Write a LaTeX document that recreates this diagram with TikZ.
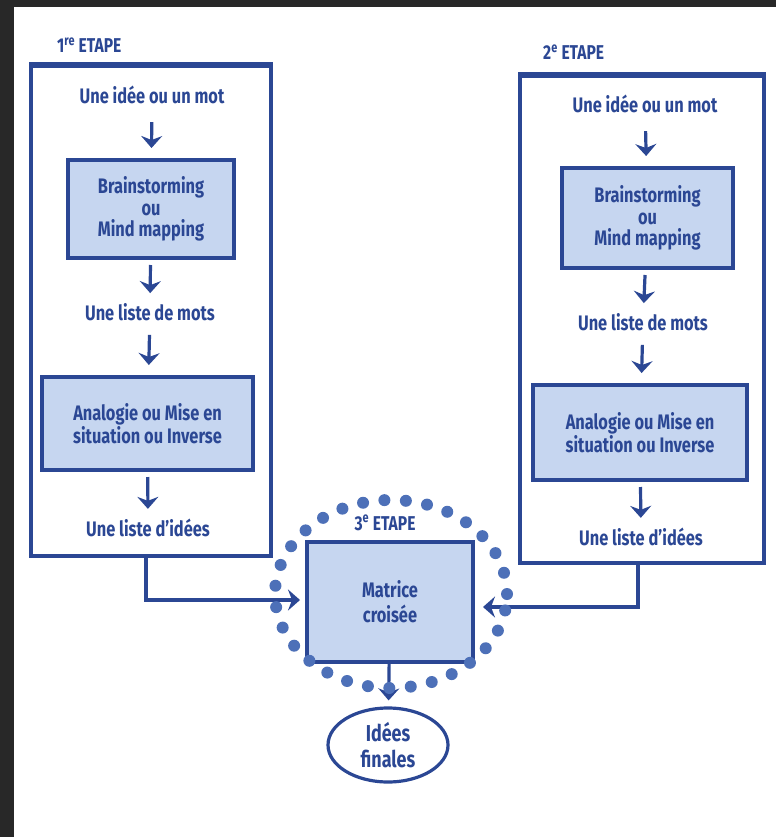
\documentclass[tikz,border=0pt]{standalone}
\usepackage{fontspec}
\setmainfont{Fira Sans}[FakeStretch=0.78]
\usetikzlibrary{arrows.meta,shapes.geometric,calc}
\definecolor{ink}{HTML}{2B4794}
\definecolor{boxfill}{HTML}{C6D6F0}
\definecolor{dotblue}{HTML}{4D70B8}
\definecolor{scanedge}{HTML}{282828}
\begin{document}
\begin{tikzpicture}[x=1pt,y=-1pt,
  frame/.style={draw=ink, line width=3.2pt, rectangle, inner sep=0pt},
  frametop/.style={draw=ink, line width=5pt},
  procbox/.style={draw=ink, fill=boxfill, line width=4pt, rectangle, align=center,
    text=ink, inner sep=0pt, font=\bfseries\fontsize{21}{21.5}\selectfont},
  lbl/.style={text=ink, inner sep=0pt, font=\bfseries\fontsize{21}{21}\selectfont},
  steplbl/.style={text=ink, inner sep=0pt, anchor=west, font=\bfseries\fontsize{20}{20}\selectfont},
  arr/.style={draw=ink, line width=3.2pt, -{Stealth[length=12pt,width=21pt,inset=4pt]}},
  down/.style={arr, shorten <=#1, shorten >=10pt},
  down/.default=20pt
]
\useasboundingbox (0,0) rectangle (776,837);
\fill[white] (0,0) rectangle (776,837);
\fill[scanedge] (0,0) rectangle (776,7);
\fill[scanedge] (0,0) rectangle (14,837);

% ---- stage 1 ----
\node[steplbl] (step1) at (57,45) {1\textsuperscript{re} ETAPE};
\node[frame, minimum width=240pt, minimum height=490pt] (frame1) at (151,311) {};
\draw[frametop] (frame1.north west) -- (frame1.north east);
\node[lbl] (idea1) at (152,95) {Une idée ou un mot};
\node[procbox, minimum width=166pt, minimum height=98pt] (bs1) at (151,209)
  {Brainstorming\\ou\\Mind mapping};
\node[lbl] (list1) at (150,312) {Une liste de mots};
\node[procbox, minimum width=211pt, minimum height=93pt] (an1) at (147.5,423.5)
  {Analogie ou Mise en\\situation ou Inverse};
\node[lbl] (ideas1) at (148,528) {Une liste d'idées};

% ---- stage 2 ----
\node[steplbl] (step2) at (543,52) {2\textsuperscript{e} ETAPE};
\node[frame, minimum width=244pt, minimum height=487pt] (frame2) at (642,319.5) {};
\draw[frametop] (frame2.north west) -- (frame2.north east);
\node[lbl] (idea2) at (645,104) {Une idée ou un mot};
\node[procbox, minimum width=171pt, minimum height=100pt] (bs2) at (647.5,218)
  {Brainstorming\\ou\\Mind mapping};
\node[lbl] (list2) at (643,322) {Une liste de mots};
\node[procbox, minimum width=214pt, minimum height=95pt] (an2) at (640,432.5)
  {Analogie ou Mise en\\situation ou Inverse};
\node[lbl] (ideas2) at (641,537) {Une liste d'idées};

% ---- stage 3 ----
\node[procbox, minimum width=166pt, minimum height=120pt,
  font=\bfseries\fontsize{21}{25}\selectfont] (mat) at (390,602) {Matrice\\croisée};
\node[text=ink, inner sep=0pt, font=\bfseries\fontsize{20}{20}\selectfont] (step3) at (385,523)
  {3\textsuperscript{e} ETAPE};
\node[ellipse, draw=ink, line width=3.2pt, minimum width=120pt, minimum height=74pt,
  inner sep=0pt, align=center, text=ink, font=\bfseries\fontsize{23}{26}\selectfont] (final) at (388,745)
  {Idées\\finales};

% arrows inside the stages
\draw[down=18pt] (idea1) -- (bs1);
\draw[down=5pt] (bs1) -- (list1);
\draw[down=14pt] (list1) -- (an1);
\draw[down=5pt] (an1) -- (ideas1);
\draw[down=18pt] (idea2) -- (bs2);
\draw[down=5pt] (bs2) -- (list2);
\draw[down=14pt] (list2) -- (an2);
\draw[down=5pt] (an2) -- (ideas2);

% links into the crossed matrix
\coordinate (j1) at (146,600);
\coordinate (j2) at (638,607);
\draw[arr, shorten >=5pt] (j1 |- frame1.south) -- (j1) -- (j1 -| mat.west);
\draw[arr, shorten >=8pt] (j2 |- frame2.south) -- (j2) -- (j2 -| mat.east);
\draw[arr, shorten >=6pt] (mat) -- (final);

% dotted ring round stage 3
\node[ellipse, draw=dotblue, line width=12pt, line cap=round, dash pattern=on 0pt off 21.5pt,
  minimum width=232pt, minimum height=188pt, inner sep=0pt] (ring) at (391,594) {};
\end{tikzpicture}
\end{document}
